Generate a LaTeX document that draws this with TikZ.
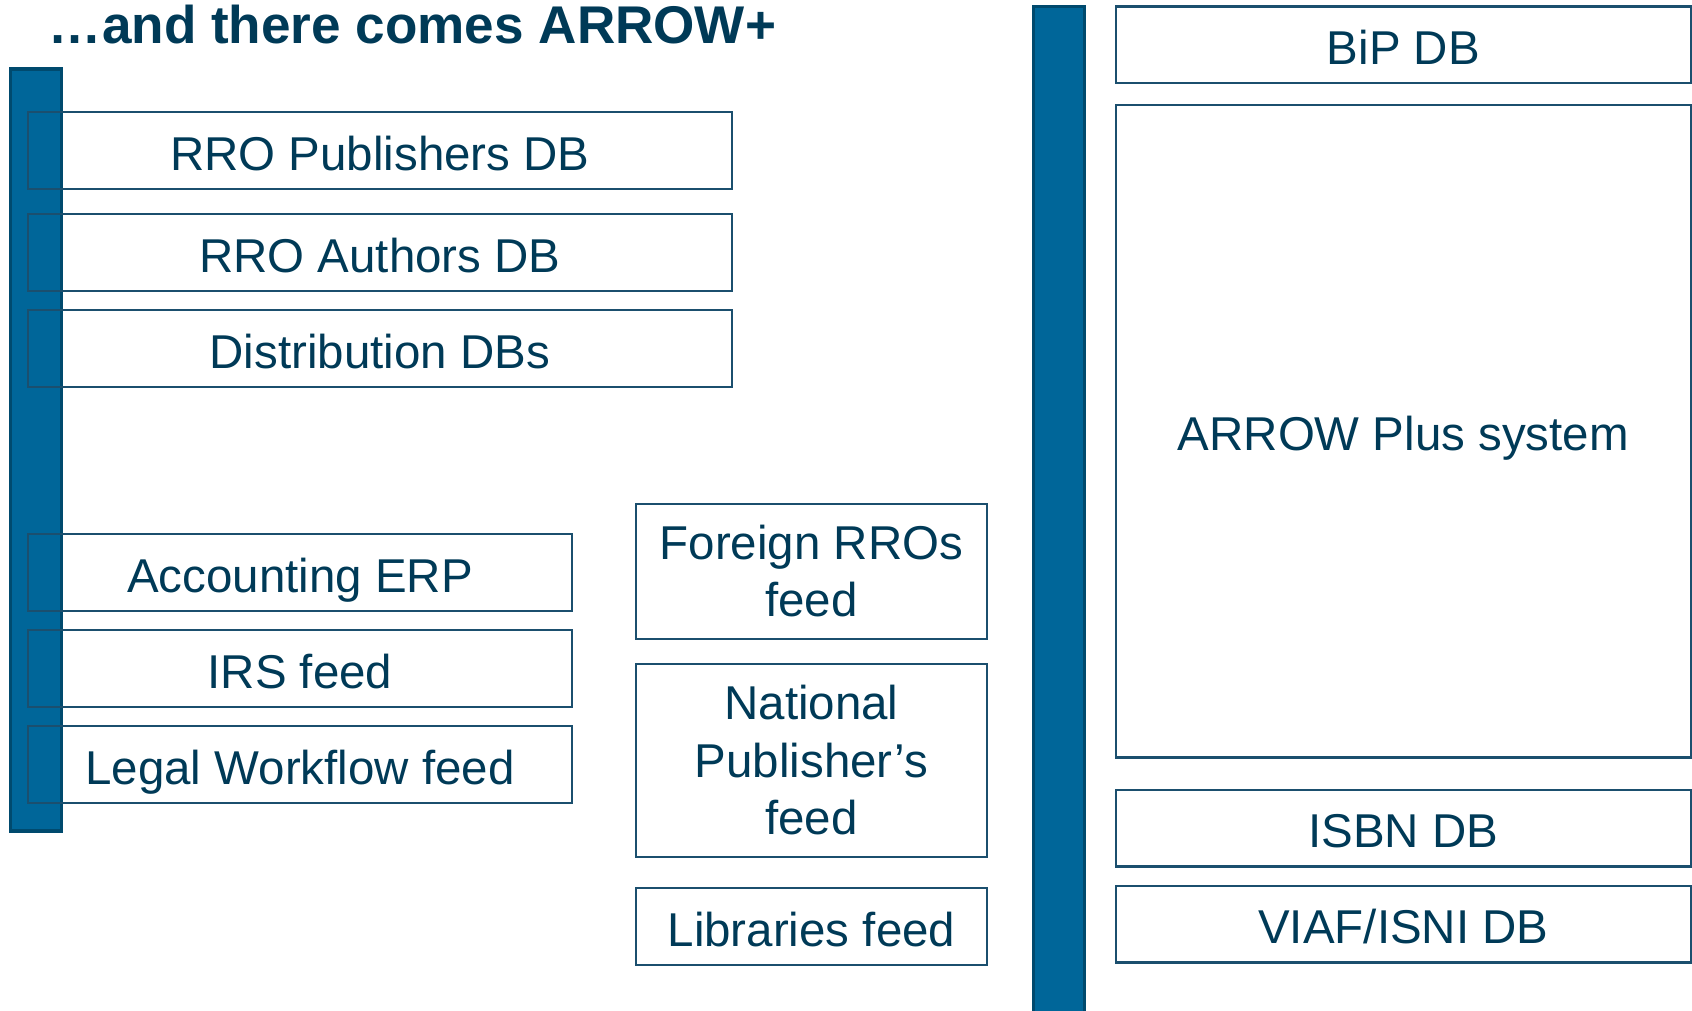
\documentclass[tikz,border=0pt]{standalone}
\usepackage{fontspec}
\setmainfont{Liberation Sans}
\definecolor{barblue}{HTML}{006699}
\definecolor{bardark}{HTML}{004A6E}
\definecolor{boxline}{HTML}{1B4F6E}
\definecolor{textnavy}{HTML}{003A57}

\begin{document}
\begin{tikzpicture}[x=0.5pt, y=-0.5pt, font=\fontsize{22}{26.5}\selectfont, text=textnavy]
    \tikzstyle{bar_blue} = [draw=bardark, line width=1.5pt, fill=barblue, rectangle, inner sep=0pt]
    \tikzstyle{box_db} = [draw=boxline, line width=1pt, rectangle, inner sep=0pt, align=center, minimum height=35.5pt]
    \tikzstyle{one_line} = [text height=18.3pt, text depth=0pt]
    \tikzstyle{box_left} = [box_db, one_line, minimum width=326pt]
    \tikzstyle{box_low} = [box_db, one_line, minimum width=252pt]
    \tikzstyle{box_mid} = [box_db, minimum width=163pt]
    \tikzstyle{box_right} = [box_db, minimum width=266.5pt]

    \useasboundingbox (0,0) rectangle (1568,936);

    \node[anchor=base west, inner sep=0pt, font=\fontsize{24.6}{29}\selectfont\bfseries] (title) at (45,40) {…and there comes ARROW+};

    % the two bars
    \node[bar_blue, minimum width=23.5pt, minimum height=353pt] (barL) at (33.5,417) {};
    \node[bar_blue, minimum width=23.5pt, minimum height=470pt] (barR) at (981.5,476) {};

    % left column
    \node[box_left] (nPub) at (352,139.5) {RRO Publishers DB};
    \node[box_left] (nAuth) at (352,234) {RRO Authors DB};
    \node[box_left] (nDist) at (352,323) {Distribution DBs};
    \node[box_low] (nAcc) at (278,530.5) {Accounting ERP};
    \node[box_low] (nIRS) at (278,619.5) {IRS feed};
    \node[box_low] (nLegal) at (278,708.5) {Legal Workflow feed};

    % middle column
    \node[box_mid, minimum height=62.5pt] (nForeign) at (752,529.5) {\raisebox{-1.5pt}{\parbox{150pt}{\centering Foreign RROs\\feed}}};
    \node[box_mid, minimum height=89.5pt] (nNational) at (752,704.5) {\raisebox{-1pt}{\parbox{150pt}{\centering National\\Publisher’s\\feed}}};
    \node[box_mid, one_line] (nLib) at (752,858.5) {Libraries feed};

    % right column
    \node[box_right, one_line] (nBiP) at (1300.5,41.5) {BiP DB};
    \node[box_right, one_line, minimum height=302.5pt] (nArrow) at (1300.5,399.5) {ARROW Plus system};
    \node[box_right, one_line] (nISBN) at (1300.5,767.5) {ISBN DB};
    \node[box_right, one_line] (nVIAF) at (1300.5,856.5) {VIAF/ISNI DB};

\end{tikzpicture}
\end{document}
